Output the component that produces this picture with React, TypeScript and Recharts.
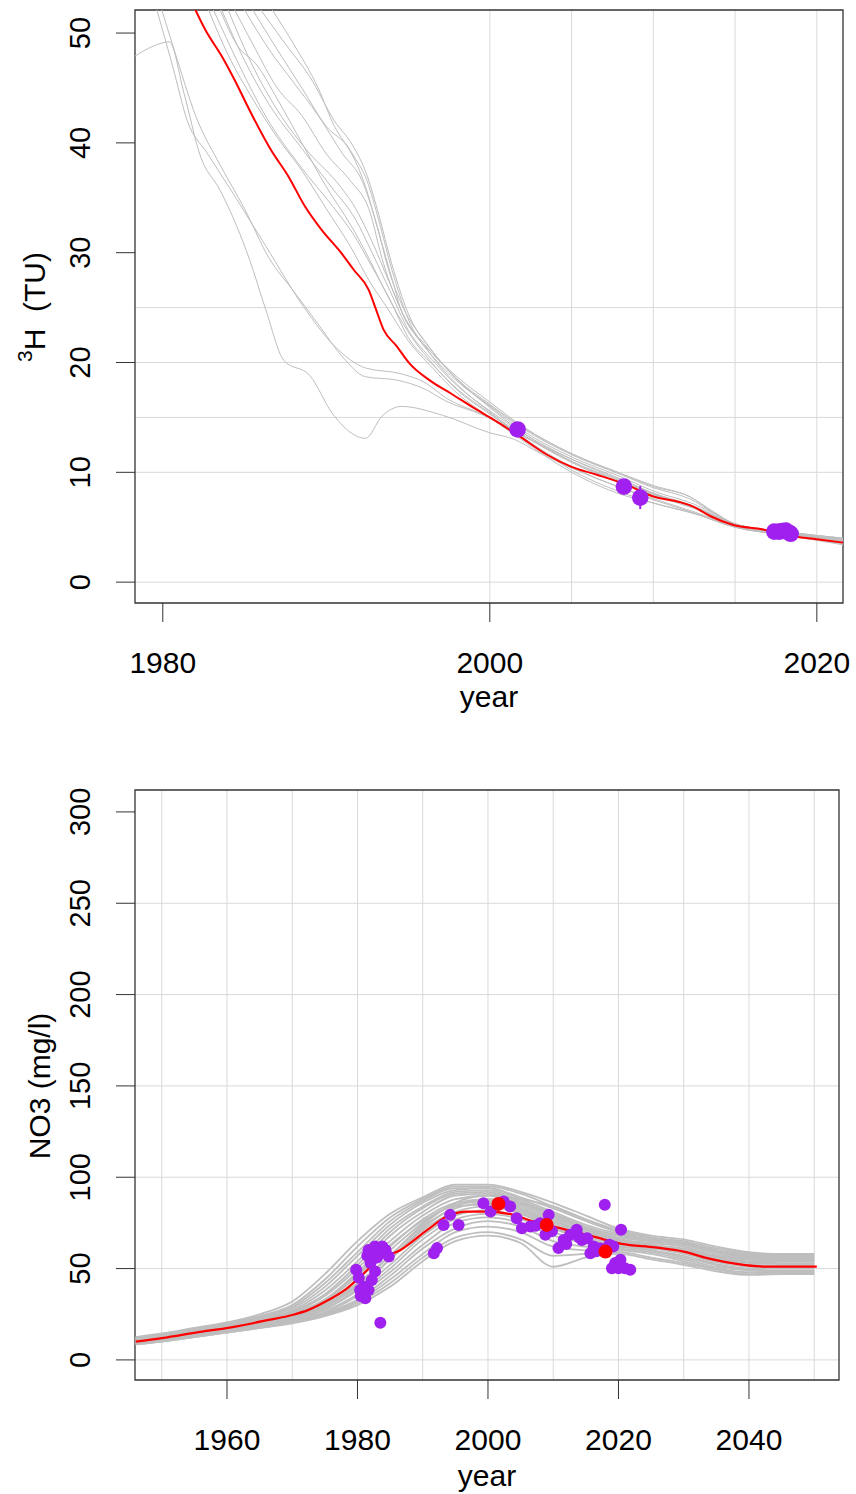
import { ComposedChart, Line, Scatter, XAxis, YAxis, CartesianGrid, ReferenceArea, ErrorBar } from 'recharts';

const FONT = '"Liberation Sans", Arial, Helvetica, sans-serif';
const GREY = '#bebebe';
const PURPLE = '#a020f0';
const AXIS = '#333';

// ---------- tritium panel ----------
const H3_X_DOMAIN = [1978.3, 2021.6];
const H3_Y_DOMAIN = [-1.9, 52.1];
const H3_X_TICKS = [1980, 2000, 2020];
const H3_Y_TICKS = [0, 10, 20, 30, 40, 50];
const H3_GRID_H = [0, 10, 15, 20, 25];
const H3_GRID_V = [2000, 2005, 2010, 2015, 2020];

// best-fit model curve
const h3Best: [number, number][] = [
  [1981.6, 53.4], [1982.0, 52.1], [1982.6, 50.3], [1983.6, 47.9], [1984.4, 45.7], [1985.4, 42.7],
  [1986.6, 39.4], [1987.7, 36.9], [1988.7, 34.2], [1989.7, 32.1], [1990.9, 30.0], [1991.7, 28.4],
  [1992.6, 26.6], [1993.0, 25.0], [1993.5, 23.0], [1994.3, 21.5], [1995.1, 19.9], [1996.3, 18.4],
  [1997.6, 17.2], [1999.2, 15.7], [2000.0, 15.0], [2001.8, 13.3], [2003.5, 11.6], [2005.0, 10.5],
  [2006.5, 9.8], [2008.3, 8.9], [2010.0, 7.8], [2011.6, 7.3], [2012.4, 6.9], [2013.5, 6.0],
  [2014.9, 5.2], [2016.7, 4.8], [2018.1, 4.3], [2020.0, 3.9], [2021.6, 3.6],
];

// other model runs
const h3Runs: [number, number][][] = [
  [[1978.3, 47.9], [1979.4, 48.8], [1980.4, 49.2], [1981.3, 44.5], [1982.3, 38.8], [1983.5, 35.7], [1984.5, 32.5],
   [1985.3, 29.4], [1986.3, 24.8], [1987.4, 20.2], [1989.0, 18.8], [1990.4, 15.3], [1992.4, 13.1], [1993.4, 15.1],
   [1994.6, 16.0], [1997.1, 15.2], [2000.0, 13.6], [2001.5, 13.0], [2003, 11.8], [2005, 10.4], [2008, 8.6],
   [2010, 7.6], [2012.5, 6.4], [2015, 5.1], [2018, 4.4], [2021.6, 3.7]],
  [[1979.6, 52.3], [1980.6, 47], [1981.5, 42], [1982.7, 39.1], [1984.3, 35.4], [1985.3, 33], [1986.3, 30.6],
   [1988.6, 25.1], [1990.5, 21.5], [1992.4, 19.5], [1994.5, 19.0], [1996, 18.2], [1997.3, 16.8], [2000, 15.0],
   [2002, 13.4], [2005, 11.0], [2008, 9.2], [2010, 8.0], [2012.5, 6.8], [2015, 5.2], [2018, 4.5], [2021.6, 3.8]],
  [[1979.9, 52.3], [1980.9, 47.5], [1982, 42.5], [1983.5, 38], [1985, 34], [1986.5, 29.5], [1988, 26.5],
   [1989.5, 23.5], [1991, 20.5], [1992.4, 18.7], [1994.3, 18.4], [1996, 17.6], [1997.3, 16.5], [1999.6, 15.2],
   [2002, 13.3], [2005, 11.2], [2008, 9.4], [2010, 8.1], [2012.5, 6.9], [2015, 5.3], [2018, 4.5], [2021.6, 3.9]],
  [[1983.1, 52.1], [1984.7, 47], [1986.3, 42.4], [1988.4, 37.9], [1990.4, 34.2], [1991.6, 31.8], [1992.8, 28.7],
   [1993.9, 25.7], [1995, 22.3], [1996.5, 19.8], [1998, 17.6], [2000, 15.4], [2002, 13.4], [2005, 10.9],
   [2008, 9.0], [2010, 7.9], [2012.5, 6.7], [2015, 5.2], [2018, 4.4], [2021.6, 3.7]],
  [[1983.6, 52.1], [1985, 47.5], [1986.5, 43.5], [1988.5, 39.5], [1990.3, 36], [1991.8, 33], [1992.8, 30],
   [1993.9, 26.5], [1995, 23], [1996.5, 20.2], [1998, 17.9], [2000, 15.6], [2002, 13.6], [2005, 11.2],
   [2008, 9.3], [2010, 8.1], [2012.5, 6.9], [2015, 5.2], [2018, 4.5], [2021.6, 3.8]],
  [[1984, 52.1], [1985.5, 47], [1987, 43], [1989, 39], [1990.6, 36.5], [1991.8, 34], [1992.8, 31],
   [1993.8, 27.5], [1995, 23.5], [1996.7, 20.5], [1998.3, 18], [2000, 16], [2002, 13.8], [2005, 11.4],
   [2008, 9.6], [2010, 8.3], [2012.5, 7.1], [2015, 5.3], [2018, 4.5], [2021.6, 3.9]],
  [[1984.4, 52.1], [1985.5, 49], [1987, 45], [1988.5, 42.5], [1990, 39], [1991.5, 36.5], [1992.6, 34],
   [1993.5, 29], [1994.5, 25], [1996, 21.5], [1998, 18.3], [2000, 16.1], [2002, 14], [2005, 11.6],
   [2008, 9.8], [2010, 8.6], [2012.2, 7.6], [2013.7, 6.3], [2015, 5.3], [2018, 4.6], [2021.6, 4.0]],
  [[1985, 52.1], [1986.5, 48.5], [1988, 45.5], [1989.5, 42.5], [1991, 39], [1992.2, 36.5], [1993, 33],
   [1993.8, 28.5], [1994.7, 25], [1996, 22], [1998, 18.5], [2000, 16.2], [2002, 14.1], [2005, 11.7],
   [2008, 9.9], [2010, 8.7], [2012.2, 7.8], [2013.7, 6.3], [2015, 5.3], [2018, 4.6], [2021.6, 4.0]],
  [[1985.5, 52.1], [1987, 48.5], [1988.5, 45], [1990, 41.5], [1991.4, 39.4], [1992.4, 36], [1993.1, 32.4],
   [1994.1, 27.2], [1994.5, 25.1], [1996, 21.7], [1998, 18.7], [2000, 16.4], [2002, 14.2], [2005, 11.7],
   [2008, 9.9], [2010, 8.8], [2012.2, 7.8], [2013.7, 6.4], [2015, 5.3], [2018, 4.6], [2021.6, 4.0]],
  [[1986, 52.1], [1987.5, 49], [1989, 46], [1990.5, 42], [1991.6, 39.8], [1992.5, 37], [1993.2, 33.5],
   [1994, 29], [1995, 24.5], [1996.5, 21], [1998.5, 17.8], [2000, 15.9], [2002, 13.6], [2005, 11.0],
   [2008, 9.1], [2010, 8.0], [2012.5, 6.8], [2015, 5.2], [2018, 4.5], [2021.6, 3.7]],
  [[1986.7, 52.1], [1988, 49], [1989.5, 45], [1990.5, 41.5], [1991.6, 39], [1992.5, 36.5], [1993.2, 33],
   [1994, 28.5], [1995, 24], [1996.5, 20.5], [1998.5, 17.3], [2000, 15.5], [2002, 13.2], [2005, 10.5],
   [2008, 8.6], [2010, 7.5], [2012.5, 6.3], [2015, 5.0], [2018, 4.3], [2021.6, 3.5]],
  [[1983.5, 52.1], [1984.5, 49], [1985.8, 47], [1987, 44], [1988.5, 40], [1990, 36], [1991.5, 32.5],
   [1992.6, 29.5], [1993.6, 26.5], [1995, 22.8], [1996.5, 19.9], [1998, 17.5], [2000, 15.3], [2002, 13.2],
   [2005, 10.2], [2008, 8.2], [2010, 7.2], [2012.6, 6.2], [2015, 5.0], [2018, 4.3], [2021.6, 3.5]],
  [[1982.8, 52.1], [1984, 48], [1985.5, 44], [1987, 40.5], [1988.5, 37.5], [1990, 34], [1991.5, 30.5],
   [1992.6, 27.5], [1993.8, 24.8], [1995, 22], [1996.5, 19.5], [1998, 17.2], [2000, 15.0], [2002, 12.9],
   [2005, 10.0], [2008, 8.0], [2010, 7.2], [2012.6, 6.2], [2015, 5.0], [2018, 4.3], [2021.6, 3.4]],
];

// measured tritium samples
const h3SampleYears = [2001.7, 2008.2, 2009.2, 2017.4, 2017.7, 2017.9, 2018.1, 2018.3, 2018.4];
const h3SampleValues = [13.9, 8.7, 7.7, 4.6, 4.6, 4.65, 4.7, 4.5, 4.4];
const h3SampleErrors = [0.3, 0.3, 1.05, 0.2, 0.2, 0.2, 0.2, 0.2, 0.2];

// ---------- nitrate panel ----------
const NO3_X_DOMAIN = [1945.9, 2053.8];
const NO3_Y_DOMAIN = [-11, 312];
const NO3_X_TICKS = [1960, 1980, 2000, 2020, 2040];
const NO3_Y_TICKS = [0, 50, 100, 150, 200, 250, 300];
const NO3_GRID_H = [0, 50, 100, 150, 200, 250];
const NO3_GRID_V = [1950, 1960, 1970, 1980, 1990, 2000, 2010, 2020, 2030, 2040, 2050];

const no3Best: [number, number][] = [
  [1946, 10.0], [1950, 11.9], [1956.2, 15.5], [1959.7, 17.3], [1966.4, 21.9], [1970.0, 24.6], [1972.5, 27.4],
  [1975.6, 32.9], [1978.1, 38.3], [1980.7, 46.5], [1983.2, 54.8], [1986.6, 60.2], [1990.7, 71.2],
  [1993.7, 78.5], [1996.8, 81.2], [1999.8, 81.2], [2003.9, 79.4], [2007.0, 75.7], [2012.1, 71.2],
  [2016.2, 67.5], [2020.5, 63.5], [2025.6, 61.6], [2030.0, 59.3], [2033.6, 55.7], [2039.2, 52.0],
  [2042.2, 51.1], [2050.4, 51.1],
];

const no3RunYears = [1946, 1950, 1955, 1960, 1965, 1970, 1975, 1980, 1985, 1990, 1995, 2000, 2005, 2010, 2015, 2020, 2025, 2030, 2035, 2040, 2045, 2050];
const no3Runs: number[][] = [
  [12.5, 14.5, 17.5, 20.5, 25, 32, 47, 65, 80, 89, 96, 96, 92, 86, 79, 72, 68, 66, 62, 59, 58, 58],
  [12, 14, 17, 20, 24, 30, 44, 62, 78, 88, 95, 95, 91, 84, 77, 71, 67, 65, 61, 58.5, 57.5, 57.5],
  [12, 14, 17, 20, 23.5, 29, 42, 59, 76, 87, 94, 94, 89, 83, 76, 70, 67, 64, 60, 58, 57, 57],
  [11.5, 13.5, 16.5, 19.5, 23, 28, 40, 57, 74, 86, 93, 94, 88, 81, 74, 69, 66, 64, 60, 57, 56.5, 56.5],
  [11.5, 13.5, 16, 19, 22.5, 27, 38, 54, 72, 84, 92, 93, 87, 80, 73, 68, 65, 63, 59, 56.5, 56, 56],
  [11, 13, 16, 19, 22, 26.5, 36, 52, 70, 83, 91, 92, 86, 79, 72, 68, 66, 64, 59, 56, 55.5, 55.5],
  [11, 13, 15.5, 18.5, 21.5, 26, 35, 50, 68, 81, 90, 91, 85, 78, 71, 67, 65, 63, 58, 55.5, 55, 55],
  [10.5, 12.5, 15.5, 18, 21, 25.5, 33, 48, 65, 79, 88, 90, 84, 77, 70, 66, 64, 62, 57, 55, 54.5, 54.5],
  [10.5, 12.5, 15, 18, 21, 25, 32, 46, 62, 77, 86, 88, 83, 76, 70, 66, 63, 61, 56.5, 54, 54, 54],
  [10, 12, 15, 17.5, 20.5, 24.5, 31, 44, 60, 75, 85, 87, 82, 75, 69, 65, 63, 60, 56, 53.5, 53, 53],
  [10, 12, 14.5, 17.5, 20, 24, 30, 42, 57, 73, 83, 86, 81, 74, 68, 65, 62, 59, 55, 53, 52.5, 52.5],
  [10, 11.5, 14.5, 17, 20, 23.5, 29, 40, 55, 71, 81, 84, 80, 73, 67, 64, 62, 58.5, 54, 52, 51.5, 51.5],
  [9.5, 11.5, 14, 17, 19.5, 23, 28, 38, 52, 68, 79, 82, 78, 72, 66, 63, 61, 58, 53.5, 51, 50.5, 50.5],
  [9.5, 11, 14, 16.5, 19, 22.5, 27, 36, 50, 66, 77, 80, 77, 70, 65, 63, 60, 57, 52.5, 50, 50, 50],
  [9.5, 11, 13.5, 16.5, 19, 22, 26, 35, 48, 63, 75, 78, 75, 68, 64, 62, 60, 56, 52, 49.5, 49, 49],
  [9, 11, 13.5, 16, 18.5, 21.5, 25.5, 33, 46, 61, 72, 76, 73, 65, 62, 61, 59, 55, 51, 49, 48.5, 48.5],
  [9, 10.5, 13, 15.5, 18, 21, 25, 32, 44, 58, 70, 73, 70, 62, 60, 60, 58, 54, 50, 48, 48, 48],
  [8.5, 10, 12.5, 15, 17.5, 20.5, 24.5, 31, 42, 56, 67, 70, 66, 57, 58, 59, 56, 53, 49.5, 47, 47.5, 47.5],
  [8.5, 10, 12.5, 15, 17.5, 20, 24, 30, 40, 54, 65, 68, 64, 51, 56, 58, 55, 52, 48.5, 46.5, 47, 47],
  [10.5, 12.5, 15, 17.5, 20.5, 24, 30, 41, 57, 74, 86, 90, 88, 84, 77, 70, 67, 64, 60, 57.5, 57, 57],
  [11, 13, 15.5, 18.5, 21, 25, 33, 47, 63, 76, 84, 85, 80, 72, 66, 62, 61, 60, 57, 55, 54.5, 54.5],
  [9.5, 11.5, 14, 16.5, 19.5, 23, 28, 39, 55, 72, 84, 88, 86, 80, 72, 66, 63, 60, 55, 52, 51.5, 51.5],
];

const no3SampleYears = [
  1979.8, 1980.2, 1980.4, 1980.5, 1980.7, 1981.0, 1981.2, 1981.5, 1981.7, 1981.7, 1982.0, 1982.2, 1982.4, 1982.7,
  1982.7, 1983.0, 1983.2, 1983.5, 1983.8, 1984.3, 1984.8,
  1991.7, 1992.2, 1993.2, 1994.2, 1995.5,
  1999.3, 2000.4, 2002.4, 2003.4, 2004.4,
  2005.2, 2006.5, 2007.3, 2008.0, 2008.8, 2009.3, 2009.8, 2010.8, 2011.6, 2012.0, 2012.6, 2013.6, 2014.0, 2014.4,
  2015.2, 2015.7, 2016.2, 2016.6, 2017.2, 2017.9, 2018.6, 2019.0, 2019.2, 2019.5, 2020.0, 2020.3, 2020.4, 2021.0, 2021.8,
];
const no3SampleValues = [
  49.3, 45.0, 38.3, 35.0, 36.5, 40.0, 33.8, 57.0, 38.3, 60.2, 53.0, 43.8, 58.0, 48.4,
  62.1, 56.0, 59.0, 20.4, 62.1, 60.2, 56.6,
  58.4, 61.2, 73.9, 79.4, 73.9,
  85.8, 81.2, 86.7, 84.0, 77.6,
  72.1, 73.0, 73.5, 74.8, 68.5, 79.4, 70.5, 61.2, 65.7, 63.5, 68.5, 71.2, 67.0, 65.7,
  66.6, 58.4, 62.1, 59.5, 61.0, 84.9, 63.0, 50.2, 62.1, 53.0, 50.2, 54.8, 71.2, 50.2, 49.3,
];
const no3MeanYears = [2001.6, 2009.0, 2018.0];
const no3MeanValues = [85.4, 73.9, 59.3];

const pairs = (p: [number, number][]) => p.map(([x, y]) => ({ x, y }));
const zip = (xs: number[], ys: number[], es?: number[]) =>
  xs.map((x, i) => ({ x, y: ys[i], err: es ? es[i] : 0 }));

const XTick = (props: any) => {
  const { x, y, payload } = props;
  return (
    <text x={x} y={y + 49} textAnchor="middle" fontSize={30} fontFamily={FONT} fill="#000">
      {payload.value}
    </text>
  );
};

const YTick = (props: any) => {
  const { x, y, payload } = props;
  const bx = x - 24;
  return (
    <text x={bx} y={y} transform={`rotate(-90 ${bx} ${y})`} textAnchor="middle" fontSize={29} fontFamily={FONT} fill="#000">
      {payload.value}
    </text>
  );
};

const dot = (r: number, fill: string) => (props: any) =>
  <circle cx={props.cx} cy={props.cy} r={r} fill={fill} />;

const TritiumChart = () => (
  <ComposedChart width={856} height={713} margin={{ top: 10, right: 13, bottom: 0, left: 0 }}>
    <CartesianGrid stroke="#d9d9d9" horizontalValues={H3_GRID_H} verticalValues={H3_GRID_V} />
    <XAxis type="number" dataKey="x" domain={H3_X_DOMAIN} allowDataOverflow ticks={H3_X_TICKS}
      height={110} tickSize={19} axisLine={false} tickLine={{ stroke: AXIS }} tick={<XTick />} />
    <YAxis type="number" dataKey="y" domain={H3_Y_DOMAIN} allowDataOverflow ticks={H3_Y_TICKS}
      width={135} tickSize={19} axisLine={false} tickLine={{ stroke: AXIS }} tick={<YTick />} />
    {h3Runs.map((run, i) => (
      <Line key={i} data={pairs(run)} dataKey="y" type="monotone" stroke={GREY} strokeWidth={1}
        dot={false} activeDot={false} isAnimationActive={false} />
    ))}
    <Line data={pairs(h3Best)} dataKey="y" type="monotone" stroke="#ff0000" strokeWidth={2}
      dot={false} activeDot={false} isAnimationActive={false} />
    <Scatter data={zip(h3SampleYears, h3SampleValues, h3SampleErrors)} dataKey="y" shape={dot(8.3, PURPLE)} isAnimationActive={false}>
      <ErrorBar dataKey="err" direction="y" width={0} stroke={PURPLE} strokeWidth={2} />
    </Scatter>
    <ReferenceArea x1={H3_X_DOMAIN[0]} x2={H3_X_DOMAIN[1]} y1={H3_Y_DOMAIN[0]} y2={H3_Y_DOMAIN[1]}
      fill="none" fillOpacity={0} stroke={AXIS} strokeWidth={1.3} ifOverflow="visible" />
  </ComposedChart>
);

const NitrateChart = () => (
  <ComposedChart width={856} height={774} margin={{ top: 70, right: 17, bottom: 0, left: 0 }}>
    <CartesianGrid stroke="#d9d9d9" horizontalValues={NO3_GRID_H} verticalValues={NO3_GRID_V} />
    <XAxis type="number" dataKey="x" domain={NO3_X_DOMAIN} allowDataOverflow ticks={NO3_X_TICKS}
      height={114} tickSize={19} axisLine={false} tickLine={{ stroke: AXIS }} tick={<XTick />} />
    <YAxis type="number" dataKey="y" domain={NO3_Y_DOMAIN} allowDataOverflow ticks={NO3_Y_TICKS}
      width={135} tickSize={19} axisLine={false} tickLine={{ stroke: AXIS }} tick={<YTick />} />
    {no3Runs.map((run, i) => (
      <Line key={i} data={zip(no3RunYears, run)} dataKey="y" type="monotone" stroke={GREY} strokeWidth={1.8}
        dot={false} activeDot={false} isAnimationActive={false} />
    ))}
    <Line data={pairs(no3Best)} dataKey="y" type="monotone" stroke="#ff0000" strokeWidth={2.2}
      dot={false} activeDot={false} isAnimationActive={false} />
    <Scatter data={zip(no3SampleYears, no3SampleValues)} dataKey="y" shape={dot(6, PURPLE)} isAnimationActive={false} />
    <Scatter data={zip(no3MeanYears, no3MeanValues)} dataKey="y" shape={dot(7, '#ff0000')} isAnimationActive={false} />
    <ReferenceArea x1={NO3_X_DOMAIN[0]} x2={NO3_X_DOMAIN[1]} y1={NO3_Y_DOMAIN[0]} y2={NO3_Y_DOMAIN[1]}
      fill="none" fillOpacity={0} stroke={AXIS} strokeWidth={1.3} ifOverflow="visible" />
  </ComposedChart>
);

export default function App() {
  return (
    <div style={{ position: 'absolute', left: 0, top: 0, width: 856, height: 1494, background: '#fff', fontFamily: FONT }}>
      <div style={{ position: 'absolute', left: 0, top: 0 }}>
        <TritiumChart />
      </div>
      <div style={{ position: 'absolute', left: 0, top: 720 }}>
        <NitrateChart />
      </div>
      <svg width={856} height={1494} style={{ position: 'absolute', left: 0, top: 0, pointerEvents: 'none' }}>
        <text x={45} y={307} transform="rotate(-90 45 307)" textAnchor="middle" fontSize={30} fontFamily={FONT} fill="#000">
          <tspan fontSize={21} dy={-13}>3</tspan>
          <tspan dy={13}>{'H\u00a0\u00a0(TU)'}</tspan>
        </text>
        <text x={489} y={707} textAnchor="middle" fontSize={30} fontFamily={FONT} fill="#000">year</text>
        <text x={50} y={1086} transform="rotate(-90 50 1086)" textAnchor="middle" fontSize={30} fontFamily={FONT} fill="#000">
          NO3 (mg/l)
        </text>
        <text x={487} y={1486} textAnchor="middle" fontSize={30} fontFamily={FONT} fill="#000">year</text>
      </svg>
    </div>
  );
}
